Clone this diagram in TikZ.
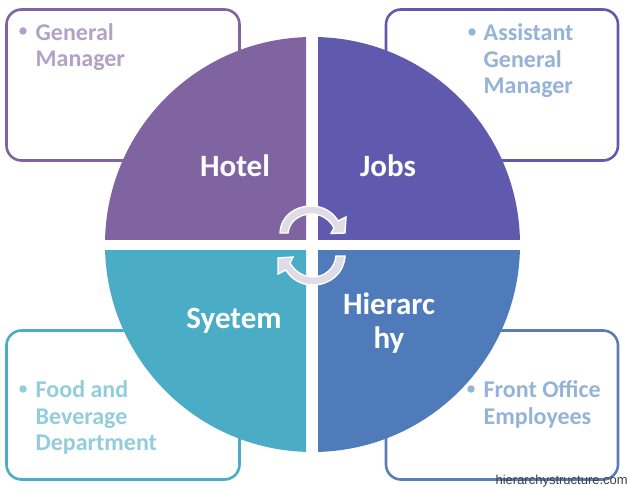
\documentclass[tikz,border=0pt]{standalone}
\usepackage{fontspec}
\setmainfont{Carlito}
\newfontfamily\wmfont{Liberation Sans}
\definecolor{cpurple}{HTML}{8064A2}
\definecolor{cindigo}{HTML}{5F5AAD}
\definecolor{cblue}{HTML}{4F7BBB}
\definecolor{cblueline}{HTML}{5A7DB5}
\definecolor{cteal}{HTML}{4BACC6}
\definecolor{tpurple}{HTML}{B3A2C7}
\definecolor{tblue}{HTML}{95B3D7}
\definecolor{tteal}{HTML}{92CDDC}
\definecolor{cyc}{HTML}{DFDCE8}
\tikzset{
  x=1pt,y=-1pt,
  panel/.style={draw=#1,line width=2.6pt,rounded corners=15pt,fill=white},
  wedgefill/.style={fill=#1,draw=none},
  titletext/.style={text=white,font=\fontsize{31}{34.5}\selectfont\bfseries,align=center,inner sep=0pt},
  itemtext/.style={text=#1,font=\fontsize{24}{26.5}\selectfont\bfseries,align=left,anchor=north west,inner sep=0pt},
  bulletdot/.style={circle,fill=#1,minimum size=7.5pt,inner sep=0pt},
  cyclearrow/.style={fill=cyc,draw=white,line width=1.4pt,line join=miter},
  wmtext/.style={text=black!75,font=\wmfont\fontsize{13}{15}\selectfont,inner sep=0pt,anchor=base east}
}
\begin{document}
\begin{tikzpicture}
\useasboundingbox (0,0) rectangle (629,489);
\fill[white] (0,0) rectangle (629,489);
% panels
\draw[panel=cpurple] (6.5,9.5) rectangle (239.5,160.5);
\draw[panel=cindigo] (386,9.5) rectangle (618,160.5);
\draw[panel=cteal] (6.5,330.5) rectangle (239.5,479.5);
\draw[panel=cblueline] (386,330.5) rectangle (618,479.5);
% disc quadrants
\begin{scope}
\clip (105,37) rectangle (306,239);
\fill[wedgefill=cpurple] (312.5,244.5) circle[radius=207.5];
\end{scope}
\begin{scope}
\clip (318,37) rectangle (520,239);
\fill[wedgefill=cindigo] (312.5,244.5) circle[radius=207.5];
\end{scope}
\begin{scope}
\clip (105,250) rectangle (306,452);
\fill[wedgefill=cteal] (312.5,244.5) circle[radius=207.5];
\end{scope}
\begin{scope}
\clip (318,250) rectangle (520,452);
\fill[wedgefill=cblue] (312.5,244.5) circle[radius=207.5];
\end{scope}
% cycle arrows
\draw[cyclearrow] (280,233) .. controls (281,215) and (296,206) .. (311,206)
  .. controls (323,206) and (333,212) .. (338,221) -- (346,217) -- (345,233) -- (331,233.5) -- (334,228)
  .. controls (329,218) and (320,214) .. (311,214)
  .. controls (299,214) and (289,222) .. (288,233) -- cycle;
\draw[cyclearrow] (345,256) .. controls (344,274) and (329,285) .. (313,285)
  .. controls (301,285) and (291,279) .. (286,270) -- (278,274) -- (278,258) -- (293,257) -- (290,263)
  .. controls (295,272) and (304,277) .. (313,277)
  .. controls (325,277) and (335,268) .. (336,256) -- cycle;
% titles
\node[titletext] (hotel) at (235,166) {Hotel};
\node[titletext] (jobs) at (388,166) {Jobs};
\node[titletext] (system) at (234,321) {Syetem};
\node[titletext] (hier) at (389,323) {Hierarc\\hy};
% items
\node[bulletdot=tpurple] (d1) at (23,31) {};
\node[itemtext=tpurple] (i1) at (35.5,23) {General\\Manager};
\node[bulletdot=tblue] (d2) at (472,32) {};
\node[itemtext=tblue] (i2) at (483.5,23.5) {Assistant\\General\\Manager};
\node[bulletdot=tteal] (d3) at (23,389) {};
\node[itemtext=tteal] (i3) at (35.5,380.5) {Food and\\Beverage\\Department};
\node[bulletdot=tblue] (d4) at (471,389) {};
\node[itemtext=tblue] (i4) at (483.5,380.5) {Front Office\\Employees};
\node[wmtext] (wm) at (628,484) {hierarchystructure.com};
\end{tikzpicture}
\end{document}
